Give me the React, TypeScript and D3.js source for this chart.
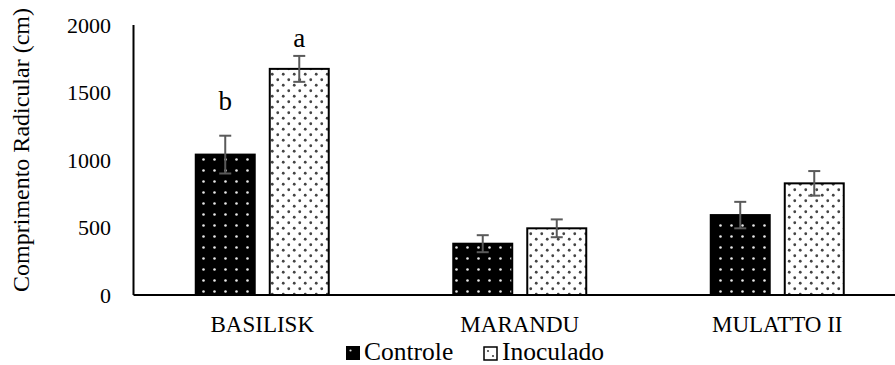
import React from "react";
import * as d3 from "d3";

const categories = ["BASILISK", "MARANDU", "MULATTO II"];
const seriesNames = ["Controle", "Inoculado"];
const controleValues = [1040, 380, 592];
const controleErrors = [140, 63, 98];
const inoculadoValues = [1675, 494, 827];
const inoculadoErrors = [96, 66, 91];
const significance = [["b", "a"], ["", ""], ["", ""]];
// value level at which each significance letter sits
const significanceLevels = [[1370, 1837], [0, 0], [0, 0]];
const yTicks = [0, 500, 1000, 1500, 2000];

const W = 895;
const H = 365;
const FONT = "'Liberation Serif', 'Times New Roman', 'DejaVu Serif', serif";

export default function App() {
  const left = 133.5;
  const right = 906;
  const top = 25;
  const bottom = 295;

  const y = d3.scaleLinear().domain([0, 2000]).range([bottom, top]);
  const x0 = d3.scaleBand<string>().domain(categories).range([left, right]).padding(0);
  const groupW = 133;
  const x1 = d3
    .scaleBand<string>()
    .domain(seriesNames)
    .range([0, groupW])
    .paddingInner(0.203)
    .paddingOuter(0);

  const values = [controleValues, inoculadoValues];
  const errors = [controleErrors, inoculadoErrors];
  const fills = ["url(#patControle)", "url(#patInoculado)"];

  return (
    <svg
      width={W}
      height={H}
      style={{ position: "absolute", left: 0, top: 0, background: "#fff" }}
    >
      <defs>
        <pattern id="patControle" width={11} height={11} patternUnits="userSpaceOnUse" x={0} y={0}>
          <rect width={11} height={11} fill="#000" />
          <circle cx={5.5} cy={5.5} r={1.3} fill="#e8e8e8" />
        </pattern>
        <pattern id="patInoculado" width={11} height={11} patternUnits="userSpaceOnUse">
          <rect width={11} height={11} fill="#fff" />
          <circle cx={2.75} cy={2.75} r={1.4} fill="#444" />
          <circle cx={8.25} cy={8.25} r={1.4} fill="#444" />
        </pattern>
      </defs>

      {/* y tick labels */}
      {yTicks.map((t) => (
        <text
          key={t}
          x={111}
          y={y(t)}
          dy="0.35em"
          textAnchor="end"
          fontSize={22}
          fontFamily={FONT}
          fill="#000"
        >
          {t}
        </text>
      ))}

      {/* y axis title */}
      <text
        transform={`translate(29, ${(top + bottom) / 2 - 10}) rotate(-90)`}
        textAnchor="middle"
        fontSize={24}
        fontFamily={FONT}
        fill="#000"
      >
        Comprimento Radicular (cm)
      </text>

      {/* bars */}
      {categories.map((c, i) => {
        const gx = (x0(c) as number) + (x0.bandwidth() - groupW) / 2;
        return (
          <g key={c}>
            {seriesNames.map((s, j) => {
              const v = values[j][i];
              const e = errors[j][i];
              const bx = gx + (x1(s) as number);
              const bw = x1.bandwidth();
              const cx = bx + bw / 2;
              return (
                <g key={s}>
                  <rect
                    x={bx}
                    y={y(v)}
                    width={bw}
                    height={bottom - y(v)}
                    fill={fills[j]}
                    stroke="#000"
                    strokeWidth={2}
                  />
                  <g stroke="#5a5a5a" strokeWidth={2}>
                    <line x1={cx} x2={cx} y1={y(v + e)} y2={y(v - e)} />
                    <line x1={cx - 6} x2={cx + 6} y1={y(v + e)} y2={y(v + e)} />
                    <line x1={cx - 6} x2={cx + 6} y1={y(v - e)} y2={y(v - e)} />
                  </g>
                  {significance[i][j] && (
                    <text
                      x={cx}
                      y={y(significanceLevels[i][j])}
                      textAnchor="middle"
                      fontSize={27}
                      fontFamily={FONT}
                      fill="#000"
                    >
                      {significance[i][j]}
                    </text>
                  )}
                </g>
              );
            })}
            <text
              x={(x0(c) as number) + x0.bandwidth() / 2}
              y={bottom + 37}
              textAnchor="middle"
              fontSize={23}
              fontFamily={FONT}
              fill="#000"
            >
              {c}
            </text>
          </g>
        );
      })}

      {/* axes */}
      <line x1={left} x2={left} y1={top} y2={bottom} stroke="#000" strokeWidth={2} />
      <line x1={left} x2={W} y1={bottom} y2={bottom} stroke="#000" strokeWidth={2} />

      {/* legend */}
      <g>
        <rect x={346} y={346} width={14} height={14} fill="#000" />
        <circle cx={350.5} cy={350.5} r={1.1} fill="#ddd" />
        <text x={364} y={359.5} fontSize={25.5} fontFamily={FONT} fill="#000">
          Controle
        </text>
        <rect x={484} y={347} width={13} height={13} fill="#fff" stroke="#000" strokeWidth={1.5} />
        <circle cx={488} cy={351} r={1.1} fill="#444" />
        <circle cx={493} cy={356} r={1.1} fill="#444" />
        <text x={502} y={359.5} fontSize={25.5} fontFamily={FONT} fill="#000">
          Inoculado
        </text>
      </g>
    </svg>
  );
}
